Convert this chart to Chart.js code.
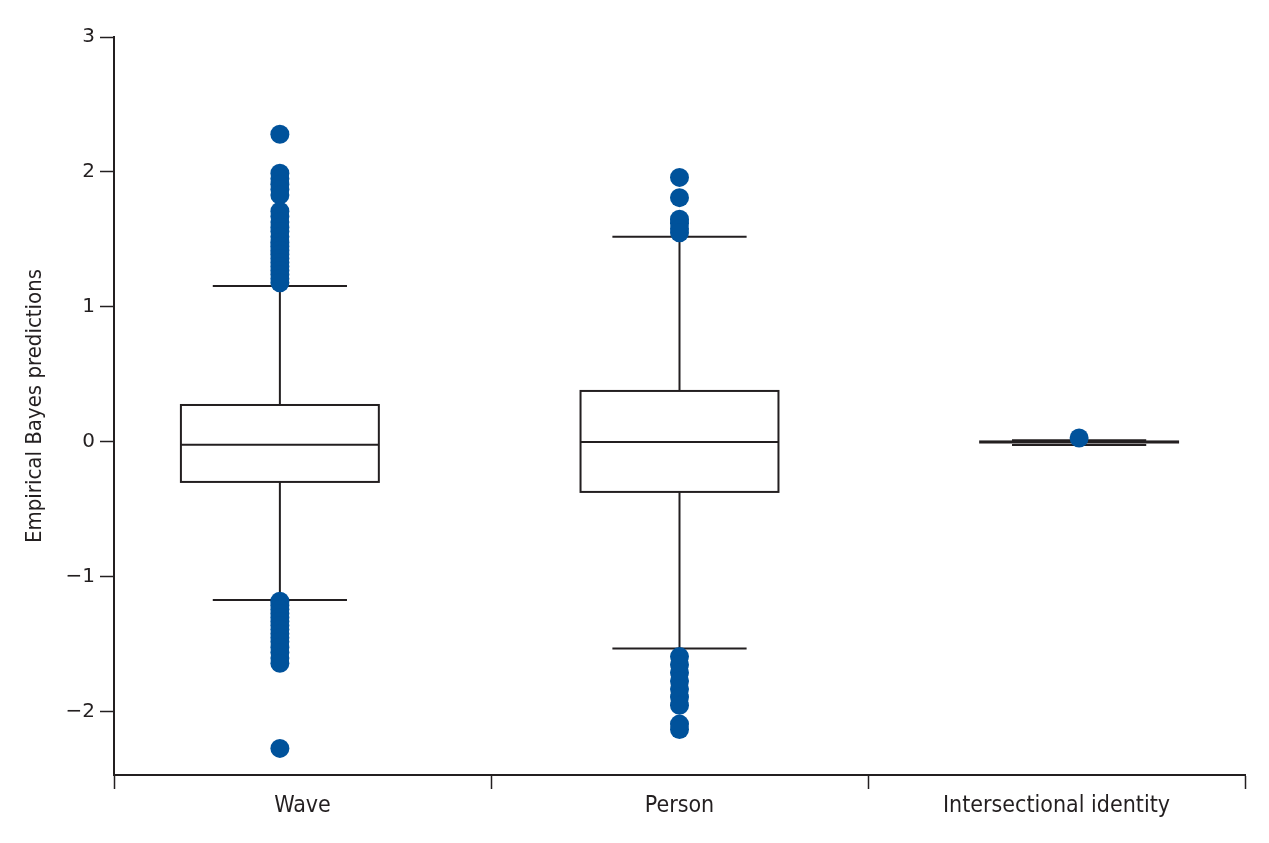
<!DOCTYPE html>
<html lang="en">
<head>
  <meta charset="UTF-8">
  <title>Empirical Bayes predictions</title>
  <script src="https://cdn.jsdelivr.net/npm/chart.js"></script>
  <style>
    html, body { margin: 0; padding: 0; background: #fff; }
    #wrap { width: 1269px; height: 843px; }
  </style>
</head>
<body>
  <div id="wrap"><canvas id="boxChart"></canvas></div>

  <script>
    // box plot summaries per level
    const categories = ['Wave', 'Person', 'Intersectional identity'];
    const lowerWhisker = [-1.17, -1.53, -0.022];
    const q1 = [-0.296, -0.37, -0.004];
    const median = [-0.02, 0.0, 0.0];
    const q3 = [0.274, 0.378, 0.004];
    const upperWhisker = [1.156, 1.52, 0.012];

    const waveOutliers = [2.28, 1.99, 1.95, 1.91, 1.87, 1.83, 1.71, 1.67, 1.63, 1.59, 1.56, 1.52,
      1.48, 1.45, 1.42, 1.39, 1.36, 1.33, 1.30, 1.27, 1.24, 1.21, 1.18,
      -1.18, -1.21, -1.24, -1.27, -1.30, -1.33, -1.36, -1.39, -1.42, -1.45, -1.48, -1.52, -1.56, -1.60, -1.64, -2.27];
    const personOutliers = [1.96, 1.81, 1.65, 1.62, 1.58, 1.55,
      -1.59, -1.65, -1.71, -1.77, -1.83, -1.89, -1.95, -2.09, -2.13];
    const identityOutliers = [0.03];

    const yTicks = [-2, -1, 0, 1, 2, 3];

    const ink = '#231f20';
    const dotBlue = '#00529b';
    const boxAt = [0.44, 1.5, 2.56];   // where each box sits on the hidden x scale
    const boxHalf = 0.2625;
    const capHalf = 0.178;
    const narrow = "'Liberation Sans Narrow', 'DejaVu Sans Condensed', sans-serif";

    const outlierSets = [waveOutliers, personOutliers, identityOutliers];
    const outlierPoints = [];
    outlierSets.forEach((vals, i) => {
      vals.forEach(v => outlierPoints.push({ x: boxAt[i], y: v }));
    });

    const boxPlugin = {
      id: 'boxes',
      beforeDatasetsDraw(chart) {
        const ctx = chart.ctx;
        const xs = chart.scales.xb;
        const ys = chart.scales.y;
        ctx.save();
        ctx.strokeStyle = ink;
        ctx.lineWidth = 2;
        const hline = (x0, x1, y) => {
          ctx.beginPath();
          ctx.moveTo(xs.getPixelForValue(x0), ys.getPixelForValue(y));
          ctx.lineTo(xs.getPixelForValue(x1), ys.getPixelForValue(y));
          ctx.stroke();
        };
        const vline = (x, y0, y1) => {
          ctx.beginPath();
          ctx.moveTo(xs.getPixelForValue(x), ys.getPixelForValue(y0));
          ctx.lineTo(xs.getPixelForValue(x), ys.getPixelForValue(y1));
          ctx.stroke();
        };
        categories.forEach((c, i) => {
          const cx = boxAt[i];
          vline(cx, q3[i], upperWhisker[i]);
          vline(cx, q1[i], lowerWhisker[i]);
          hline(cx - capHalf, cx + capHalf, upperWhisker[i]);
          hline(cx - capHalf, cx + capHalf, lowerWhisker[i]);
          const left = xs.getPixelForValue(cx - boxHalf);
          const right = xs.getPixelForValue(cx + boxHalf);
          const top = ys.getPixelForValue(q3[i]);
          const bottom = ys.getPixelForValue(q1[i]);
          ctx.fillStyle = '#fff';
          ctx.fillRect(left, top, right - left, bottom - top);
          ctx.strokeRect(left, top, right - left, bottom - top);
          hline(cx - boxHalf, cx + boxHalf, median[i]);
        });
        ctx.restore();
      }
    };

    new Chart(document.getElementById('boxChart'), {
      type: 'scatter',
      data: {
        labels: categories,
        datasets: [{
          data: outlierPoints,
          xAxisID: 'xb',
          backgroundColor: dotBlue,
          borderColor: dotBlue,
          pointRadius: 9.5,
          pointHoverRadius: 9.5,
          borderWidth: 0
        }]
      },
      options: {
        responsive: true,
        maintainAspectRatio: false,
        animation: false,
        layout: { padding: { top: 37, right: 24, left: 0, bottom: 0 } },
        plugins: {
          legend: { display: false },
          tooltip: { enabled: false }
        },
        scales: {
          x: {
            type: 'category',
            labels: categories,
            offset: true,
            grid: {
              offset: true,
              drawOnChartArea: false,
              drawTicks: true,
              tickLength: 14,
              tickColor: ink,
              tickWidth: 1.5
            },
            border: { color: ink, width: 2 },
            ticks: {
              color: ink,
              padding: 3,
              font: { family: narrow, size: 23 }
            },
            afterFit(scale) { scale.height = 68; }
          },
          xb: {
            type: 'linear',
            min: 0,
            max: 3,
            display: false
          },
          y: {
            type: 'linear',
            min: -2.467,
            max: 3,
            afterBuildTicks(scale) {
              scale.ticks = yTicks.map(v => ({ value: v }));
            },
            grid: {
              drawOnChartArea: false,
              tickLength: 14,
              tickColor: ink,
              tickWidth: 1.5
            },
            border: { color: ink, width: 2 },
            ticks: {
              color: ink,
              padding: 5,
              font: { family: "'DejaVu Sans', sans-serif", size: 20 },
              callback: v => (v < 0 ? '\u2212' + Math.abs(v) : String(v))
            },
            title: {
              display: true,
              text: 'Empirical Bayes predictions',
              color: ink,
              padding: { top: 22, bottom: 0 },
              font: { family: narrow, size: 22 }
            },
            afterFit(scale) { scale.width = 114; }
          }
        }
      },
      plugins: [boxPlugin]
    });
  </script>
</body>
</html>
